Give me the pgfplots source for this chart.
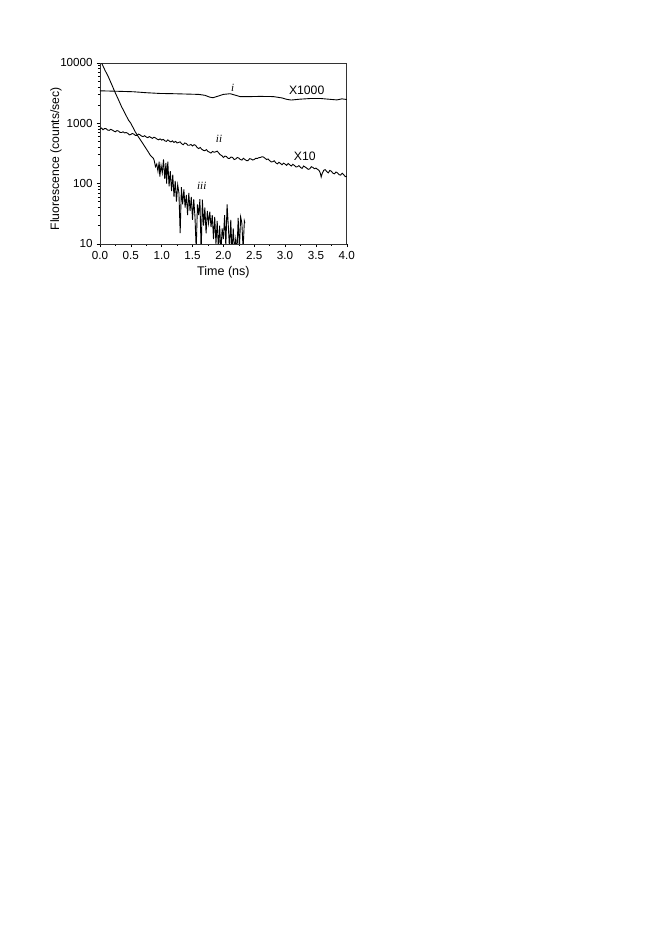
\documentclass[border=0pt]{standalone}
\usepackage{fontspec}
\setmainfont{Liberation Sans}
\newfontfamily\serif{Liberation Serif}
\usepackage{pgfplots}
\pgfplotsset{compat=1.18}

\begin{document}
\begin{tikzpicture}
% A4 page, chart in the upper left corner
\path[use as bounding box] (-90pt,-622.4pt) rectangle (505pt,219.6pt);
\begin{axis}[
    at={(0,0)}, anchor=south west,
    scale only axis,
    width=222.3pt, height=163pt,
    ymode=log,
    xmin=0, xmax=4, ymin=10, ymax=10000,
    xtick={0,0.5,...,4},
    xticklabels={0.0,0.5,1.0,1.5,2.0,2.5,3.0,3.5,4.0},
    minor x tick num=1,
    ytick={10,100,1000,10000},
    yticklabels={10,100,1000,10000},
    tick align=outside,
    xtick pos=left, ytick pos=left,
    major tick length=3pt, minor tick length=1.8pt,
    tick style={black, line width=0.5pt},
    axis line style={line width=0.6pt, black!80},
    tick label style={font=\fontsize{10.5}{12}\selectfont},
    xlabel={Time (ns)},
    ylabel={Fluorescence (counts/sec)},
    xlabel style={font=\fontsize{11.3}{12}\selectfont,
        at={(axis description cs:0.5,-0.158)}, anchor=center},
    ylabel style={font=\fontsize{11}{12}\selectfont,
        at={(axis description cs:-0.178,0.47)}, anchor=center},
    clip=true,
]
% curve i (x1000)
\addplot[black, line width=0.8pt] coordinates {
(0.00,3440) (0.20,3400) (0.54,3320) (0.75,3200) (0.97,3110) (1.20,3080)
(1.40,3040) (1.60,3000) (1.70,2900) (1.78,2700) (1.83,2640) (1.92,2820)
(2.00,3000) (2.11,3080) (2.20,2900) (2.27,2760) (2.45,2760) (2.59,2780)
(2.81,2760) (2.95,2620) (3.03,2480) (3.10,2420) (3.24,2500) (3.40,2560)
(3.57,2570) (3.70,2500) (3.84,2430) (3.92,2530) (4.00,2470)
};
% curve ii (x10)
\addplot[black, line width=0.8pt] coordinates {
(0.000,800) (0.025,830) (0.050,780) (0.075,815) (0.100,810) (0.125,770)
(0.150,760) (0.175,790) (0.200,770) (0.225,740) (0.250,720) (0.275,755)
(0.300,740) (0.325,705) (0.350,700) (0.375,720) (0.400,690) (0.425,700)
(0.450,680) (0.475,640) (0.500,650) (0.525,675) (0.550,660) (0.575,625)
(0.600,630) (0.625,660) (0.650,640) (0.675,610) (0.700,600) (0.725,620)
(0.750,590) (0.775,575) (0.800,600) (0.825,580) (0.850,560) (0.875,585)
(0.900,570) (0.925,545) (0.950,530) (0.975,550) (1.000,525) (1.025,540)
(1.050,510) (1.075,500) (1.100,530) (1.125,505) (1.150,490) (1.175,510)
(1.200,480) (1.225,500) (1.250,470) (1.275,480) (1.300,490) (1.325,455)
(1.350,440) (1.375,470) (1.400,460) (1.425,430) (1.450,430) (1.475,445)
(1.500,420) (1.525,440) (1.550,430) (1.575,395) (1.600,380) (1.625,395)
(1.650,370) (1.675,355) (1.700,350) (1.725,365) (1.750,340) (1.775,330)
(1.800,320) (1.825,340) (1.850,330) (1.875,335) (1.900,345) (1.925,320)
(1.950,300) (1.975,290) (2.000,270) (2.025,285) (2.050,280) (2.075,262)
(2.100,260) (2.125,275) (2.150,270) (2.175,250) (2.200,255) (2.225,270)
(2.250,265) (2.275,250) (2.300,245) (2.325,262) (2.350,250) (2.375,240)
(2.400,240) (2.425,258) (2.450,255) (2.475,245) (2.500,250) (2.525,262)
(2.550,260) (2.575,268) (2.600,270) (2.625,278) (2.650,275) (2.675,262)
(2.700,250) (2.725,255) (2.750,240) (2.775,228) (2.800,230) (2.825,238)
(2.850,220) (2.875,212) (2.900,225) (2.925,215) (2.950,205) (2.975,218)
(3.000,210) (3.025,200) (3.050,215) (3.075,205) (3.100,195) (3.125,208)
(3.150,200) (3.175,188) (3.200,190) (3.225,198) (3.250,185) (3.275,178)
(3.300,195) (3.325,188) (3.350,180) (3.375,172) (3.400,175) (3.425,190)
(3.450,185) (3.475,176) (3.500,180) (3.525,172) (3.550,165) (3.570,150)
(3.585,128) (3.600,145) (3.625,165) (3.650,170) (3.675,158) (3.700,150)
(3.725,165) (3.750,160) (3.775,148) (3.800,145) (3.825,155) (3.850,150)
(3.875,140) (3.900,138) (3.925,148) (3.950,140) (3.975,130) (4.000,132)
};
% curve iii
\addplot[black, line width=0.8pt] coordinates {
(0.03,9800) (0.08,7600) (0.135,5900) (0.19,4400) (0.24,3330) (0.30,2450)
(0.35,1880) (0.40,1500) (0.46,1135) (0.50,1000) (0.57,725) (0.62,600)
(0.675,495) (0.72,420) (0.78,338) (0.82,290) (0.865,263)
(0.88,240) (0.90,190) (0.92,210) (0.94,160) (0.96,230) (0.97,130)
(0.99,200) (1.01,150) (1.03,250) (1.05,120) (1.07,220) (1.08,100)
(1.10,230) (1.12,90) (1.14,160) (1.16,75) (1.18,140) (1.20,60)
(1.22,110) (1.24,50) (1.26,95) (1.28,70) (1.30,15) (1.32,87)
(1.34,45) (1.36,80) (1.38,40) (1.40,65) (1.42,30) (1.44,70)
(1.46,35) (1.48,60) (1.50,25) (1.52,55) (1.54,28) (1.56,8)
(1.58,45) (1.60,30) (1.62,55) (1.64,7) (1.66,54) (1.68,20)
(1.70,40) (1.72,15) (1.74,35) (1.76,22) (1.78,34) (1.80,19)
(1.82,30) (1.84,12) (1.86,28) (1.88,10) (1.90,24) (1.92,8)
(1.94,20) (1.96,7) (1.98,18) (2.00,12) (2.02,30) (2.04,9)
(2.06,45) (2.08,20) (2.10,8) (2.12,25) (2.14,7) (2.16,18)
(2.18,8) (2.20,12) (2.22,7) (2.24,27) (2.26,8) (2.28,28)
(2.30,22) (2.32,8) (2.34,24) (2.35,22)
};
\node[font=\serif\itshape\fontsize{10}{11}\selectfont] at (axis cs:2.15,3900) {i};
\node[font=\serif\itshape\fontsize{10}{11}\selectfont] at (axis cs:1.93,560) {ii};
\node[font=\serif\itshape\fontsize{10}{11}\selectfont] at (axis cs:1.65,92) {iii};
\node[font=\fontsize{11}{12}\selectfont] at (axis cs:3.35,3470) {X1000};
\node[font=\fontsize{11}{12}\selectfont] at (axis cs:3.32,287) {X10};
\end{axis}
\end{tikzpicture}
\end{document}
